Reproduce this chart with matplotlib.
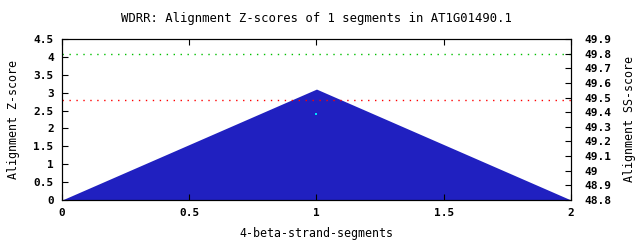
import matplotlib
matplotlib.use('Agg')
from matplotlib import pyplot as plt

# data
segments = [0, 1, 2]
zscores = [0, 3.1, 0]
green_level = 4.07
red_level = 2.80
ss_x = [1]
ss_y = [2.41]

plt.rcParams['font.family'] = 'DejaVu Sans Mono'
plt.rcParams['font.size'] = 8
plt.rcParams['font.weight'] = 'bold'

fig = plt.figure(figsize=(6.4, 2.4), dpi=100)
ax = fig.add_axes([0.097, 0.1667, 0.795, 0.6708])

ax.fill_between(segments, zscores, 0, color='#2020c0', lw=0)
ax.axhline(green_level, color='#00c000', ls=(0, (1, 4)), lw=1)
ax.axhline(red_level, color='#ff0000', ls=(0, (1, 4)), lw=1)
ax.plot(ss_x, ss_y, 's', color='#00e0ff', ms=1.5, mew=0)

ax.set_xlim(0, 2)
ax.set_ylim(0, 4.5)
ax.set_xticks([0, 0.5, 1, 1.5, 2])
ax.set_xticklabels(['0', '0.5', '1', '1.5', '2'])
ax.set_yticks([0, 0.5, 1, 1.5, 2, 2.5, 3, 3.5, 4, 4.5])
ax.set_yticklabels(['0', '0.5', '1', '1.5', '2', '2.5', '3', '3.5', '4', '4.5'])
ax.tick_params(direction='in', top=True, length=4, width=0.8, pad=6)
ax.set_xlabel('4-beta-strand-segments', labelpad=6, fontsize=8.4)
ax.set_ylabel('Alignment Z-score', labelpad=10, fontsize=8.4)
ax.set_title('WDRR: Alignment Z-scores of 1 segments in AT1G01490.1', pad=12, fontsize=8.8)

ax2 = ax.twinx()
ax2.set_ylim(48.8, 49.9)
ticks2 = [48.8, 48.9, 49.0, 49.1, 49.2, 49.3, 49.4, 49.5, 49.6, 49.7, 49.8, 49.9]
ax2.set_yticks(ticks2)
ax2.set_yticklabels(['48.8', '48.9', '49', '49.1', '49.2', '49.3', '49.4', '49.5',
                     '49.6', '49.7', '49.8', '49.9'])
ax2.tick_params(direction='in', length=4, width=0.8, pad=10)
ax2.set_ylabel('Alignment SS-score', labelpad=8, fontsize=8.4)

for a in (ax, ax2):
    for s in a.spines.values():
        s.set_linewidth(0.8)

fig.savefig('out.png', dpi=100)
